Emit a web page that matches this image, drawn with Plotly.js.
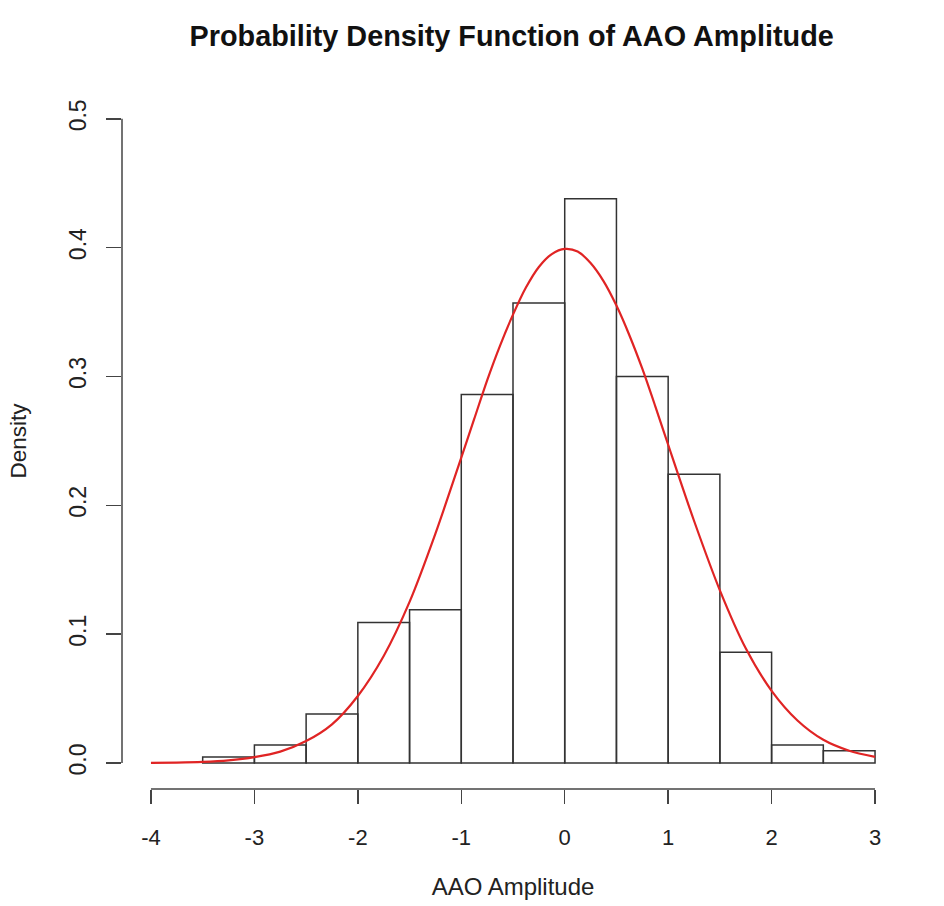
<!DOCTYPE html>
<html>
<head>
<meta charset="utf-8">
<script src="https://cdn.plot.ly/plotly-3.0.1.min.js"></script>
<style>
  html, body { margin: 0; padding: 0; background: #fff; }
  #chart { width: 944px; height: 906px; }
</style>
</head>
<body>
<div id="chart"></div>
<script>
// histogram bins (width 0.5), density
const binCenters = [-3.25, -2.75, -2.25, -1.75, -1.25, -0.75, -0.25, 0.25, 0.75, 1.25, 1.75, 2.25, 2.75];
const binDensity = [0.0047, 0.014, 0.038, 0.109, 0.119, 0.286, 0.357, 0.438, 0.300, 0.224, 0.086, 0.014, 0.0095];
const BIN_WIDTH = 0.5;

// fitted normal curve, sampled from the red line
const curveX = [-4, -3.75, -3.5, -3.25, -3, -2.75, -2.5, -2.25, -2, -1.75, -1.5, -1.25,
  -1, -0.875, -0.75, -0.625, -0.5, -0.375, -0.25, -0.125, 0, 0.125, 0.25, 0.375,
  0.5, 0.625, 0.75, 0.875, 1, 1.25, 1.5, 1.75, 2, 2.25, 2.5, 2.75, 3];
const curveY = [0.0001, 0.0003, 0.0008, 0.002, 0.0045, 0.0088, 0.017, 0.030, 0.052, 0.083, 0.125, 0.178,
  0.237, 0.267, 0.297, 0.324, 0.348, 0.369, 0.385, 0.395, 0.399, 0.397, 0.388, 0.374,
  0.355, 0.332, 0.306, 0.277, 0.247, 0.188, 0.134, 0.089, 0.056, 0.033, 0.018, 0.0095, 0.0047];

const xTicks = [-4, -3, -2, -1, 0, 1, 2, 3];
const xTickText = ["-4", "-3", "-2", "-1", "0", "1", "2", "3"];
const yTicks = [0.0, 0.1, 0.2, 0.3, 0.4, 0.5];
const yTickText = ["0.0", "0.1", "0.2", "0.3", "0.4", "0.5"];

const FONT = "Liberation Sans, Arial, Helvetica, sans-serif";
const INK = "#222";

const bars = {
  type: "bar",
  x: binCenters,
  y: binDensity,
  width: BIN_WIDTH,
  marker: { color: "rgba(255,255,255,0)", line: { color: "#333", width: 1.5 } },
  hoverinfo: "x+y"
};

const curve = {
  type: "scatter",
  mode: "lines",
  x: curveX,
  y: curveY,
  line: { color: "#e02424", width: 2.2, shape: "spline", smoothing: 0.8 }
};

// R-style axis lines spanning only the tick range
const shapes = [
  {
    type: "line", xref: "x", yref: "paper",
    x0: xTicks[0], x1: xTicks[xTicks.length - 1], y0: 0, y1: 0,
    line: { color: "#444", width: 1.5 }
  },
  {
    type: "line", xref: "paper", yref: "y",
    x0: 0, x1: 0, y0: yTicks[0], y1: yTicks[yTicks.length - 1],
    line: { color: "#444", width: 1.5 }
  }
];

const layout = {
  width: 944,
  height: 906,
  margin: { l: 122, r: 40, t: 93, b: 117 },
  paper_bgcolor: "#fff",
  plot_bgcolor: "#fff",
  showlegend: false,
  bargap: 0,
  font: { family: FONT, color: INK, size: 22 },
  title: {
    text: "<b>Probability Density Function of AAO Amplitude</b>",
    font: { family: FONT, size: 28.8, color: "#111" },
    x: 0.542, xanchor: "center",
    y: 0.960, yanchor: "middle"
  },
  xaxis: {
    range: [-4.28, 3.28],
    tickmode: "array",
    tickvals: xTicks,
    ticktext: xTickText,
    ticks: "outside",
    ticklen: 14,
    tickwidth: 1.5,
    tickcolor: "#444",
    ticklabelstandoff: 15,
    showgrid: false,
    zeroline: false,
    showline: false,
    tickfont: { family: FONT, size: 22, color: INK },
    title: { text: "AAO Amplitude", font: { family: FONT, size: 24, color: INK }, standoff: 28 }
  },
  yaxis: {
    range: [-0.0202, 0.52],
    tickmode: "array",
    tickvals: yTicks,
    ticktext: yTickText,
    tickangle: -90,
    ticks: "outside",
    ticklen: 15,
    tickwidth: 1.5,
    tickcolor: "#444",
    ticklabelstandoff: 11,
    showgrid: false,
    zeroline: false,
    showline: false,
    tickfont: { family: FONT, size: 23, color: INK },
    title: { text: "Density", font: { family: FONT, size: 22.5, color: INK }, standoff: 31 }
  },
  shapes: shapes
};

Plotly.newPlot("chart", [bars, curve], layout, { displayModeBar: false, staticPlot: true });
</script>
</body>
</html>
